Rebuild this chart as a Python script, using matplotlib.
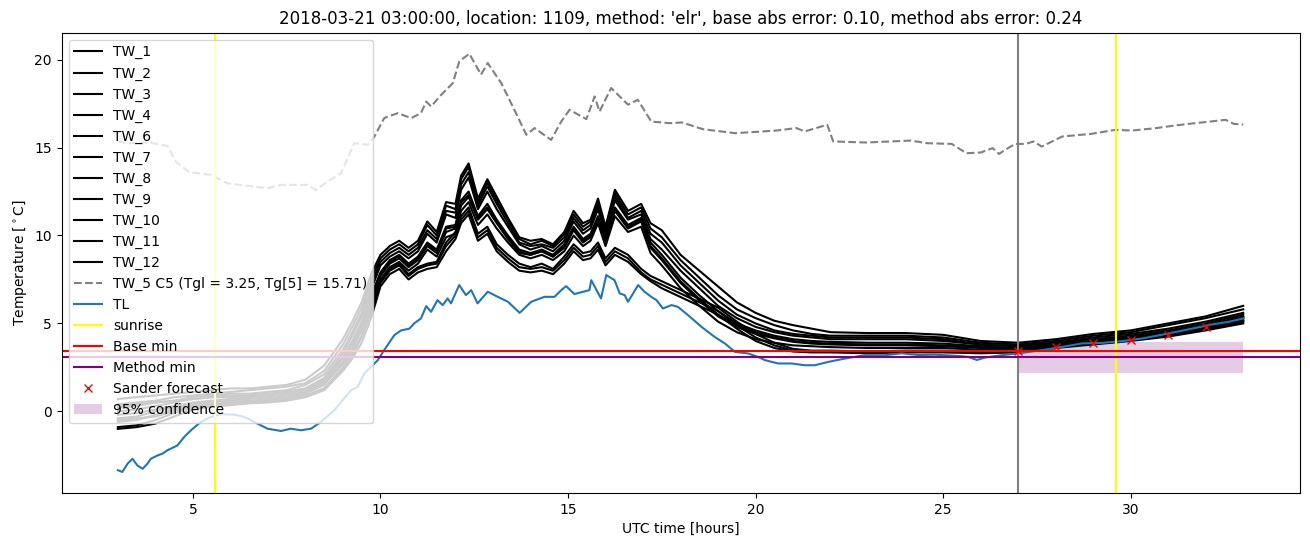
#!/usr/bin/env python3

import numpy as np
import matplotlib as mpl
mpl.use('Agg')
import matplotlib.pyplot as plt

################################################################################

title = ("2018-03-21 03:00:00, location: 1109, method: 'elr', "
         "base abs error: 0.10, method abs error: 0.24")

# common time axis of the TW sensors (hours, UTC)
t_tw = [3, 3.5, 4, 4.5, 5, 5.5, 6, 6.5, 7, 7.5, 8, 8.5, 9, 9.25, 9.5, 9.75,
        10, 10.25, 10.5, 10.75, 11, 11.25, 11.5, 11.75, 12, 12.15, 12.35,
        12.6, 12.85, 13.1, 13.4, 13.7, 14, 14.3, 14.6, 14.9, 15.15, 15.4,
        15.6, 15.8, 16, 16.25, 16.6, 16.95, 17.2, 17.5, 18, 18.5, 19, 19.5,
        20, 20.5, 21, 21.5, 22, 23, 24, 25, 26, 27, 28, 29, 30, 31, 32, 33]

tw_names = ["TW_1", "TW_2", "TW_3", "TW_4", "TW_6", "TW_7", "TW_8", "TW_9",
            "TW_10", "TW_11", "TW_12"]

tw_1 = [0.7, 0.8, 0.9, 1.0, 1.1, 1.2, 1.3, 1.3, 1.4, 1.5, 1.8, 2.6, 4.1, 5.1,
        6.2, 7.8, 8.9, 9.4, 9.7, 9.3, 9.7, 10.8, 10.2, 11.9, 11.8, 13.4, 14.1,
        12.1, 13.2, 12.2, 11.0, 9.9, 9.7, 9.8, 9.5, 10.2, 11.4, 10.7, 10.9,
        12.1, 10.5, 12.6, 11.4, 11.8, 10.7, 10.3, 8.9, 8.0, 7.1, 6.2, 5.6,
        5.15, 4.9, 4.7, 4.5, 4.45, 4.45, 4.35, 4.0, 3.9, 4.1, 4.4, 4.6, 5.0,
        5.4, 6.0]
tw_2 = [0.4, 0.5, 0.6, 0.8, 0.9, 1.0, 1.1, 1.2, 1.3, 1.4, 1.6, 2.3, 3.8, 4.8,
        5.9, 7.5, 8.7, 9.2, 9.5, 9.1, 9.5, 10.6, 10.0, 11.7, 11.5, 13.2, 13.9,
        11.9, 13.0, 12.0, 10.9, 9.8, 9.5, 9.7, 9.4, 10.1, 11.2, 10.5, 10.8,
        11.9, 10.4, 12.4, 11.2, 11.6, 10.4, 9.9, 8.6, 7.6, 6.6, 5.8, 5.3, 4.9,
        4.6, 4.4, 4.3, 4.3, 4.3, 4.2, 3.9, 3.8, 4.0, 4.3, 4.5, 4.9, 5.3, 5.8]
tw_3 = [0.2, 0.3, 0.5, 0.6, 0.8, 0.9, 1.0, 1.0, 1.1, 1.2, 1.5, 2.1, 3.5, 4.5,
        5.6, 7.2, 8.5, 9.0, 9.3, 8.9, 9.3, 10.3, 9.8, 11.4, 11.3, 12.9, 13.6,
        11.7, 12.8, 11.8, 10.7, 9.6, 9.4, 9.5, 9.3, 9.9, 11.0, 10.3, 10.6,
        11.7, 10.2, 12.2, 11.0, 11.4, 10.1, 9.6, 8.3, 7.3, 6.3, 5.5, 5.0, 4.6,
        4.4, 4.3, 4.2, 4.2, 4.2, 4.1, 3.8, 3.7, 3.9, 4.2, 4.4, 4.7, 5.1, 5.6]
tw_4 = [0.0, 0.1, 0.3, 0.5, 0.7, 0.8, 0.9, 0.9, 1.0, 1.1, 1.3, 1.9, 3.3, 4.3,
        5.4, 6.9, 8.3, 8.8, 9.1, 8.7, 9.1, 10.1, 9.6, 11.2, 11.0, 12.6, 13.3,
        11.5, 12.5, 11.5, 10.5, 9.5, 9.2, 9.4, 9.1, 9.7, 10.8, 10.1, 10.4,
        11.5, 10.0, 12.0, 10.9, 11.2, 9.8, 9.2, 8.0, 7.0, 6.0, 5.3, 4.8, 4.5,
        4.3, 4.2, 4.1, 4.1, 4.1, 4.0, 3.8, 3.7, 3.9, 4.1, 4.3, 4.6, 5.0, 5.5]
tw_6 = [-0.2, -0.1, 0.1, 0.3, 0.5, 0.6, 0.7, 0.8, 0.9, 1.0, 1.2, 1.7, 3.0, 3.9,
        5.0, 6.5, 7.9, 8.6, 8.9, 8.4, 8.8, 9.6, 9.2, 10.5, 10.6, 12.0, 12.5,
        11.1, 11.8, 10.9, 10.0, 9.2, 9.0, 9.2, 8.9, 9.5, 10.5, 9.8, 10.1,
        11.1, 9.8, 11.6, 10.6, 11.0, 9.6, 8.9, 7.6, 6.6, 5.7, 5.0, 4.6, 4.3,
        4.1, 4.0, 3.95, 3.9, 3.9, 3.85, 3.7, 3.6, 3.8, 4.0, 4.2, 4.5, 4.9, 5.4]
tw_7 = [-0.4, -0.3, 0.0, 0.2, 0.4, 0.5, 0.6, 0.7, 0.8, 0.9, 1.1, 1.6, 2.8, 3.7,
        4.8, 6.3, 7.7, 8.4, 8.7, 8.2, 8.6, 9.4, 9.0, 10.2, 10.4, 11.7, 12.2,
        10.9, 11.5, 10.7, 9.8, 9.0, 8.9, 9.1, 8.8, 9.3, 10.3, 9.6, 9.9, 10.9,
        9.6, 11.4, 10.4, 10.8, 9.3, 8.6, 7.3, 6.3, 5.4, 4.8, 4.4, 4.15, 3.95,
        3.85, 3.8, 3.75, 3.75, 3.7, 3.6, 3.55, 3.75, 3.95, 4.15, 4.45, 4.8,
        5.3]
tw_8 = [0.3, 0.4, 0.5, 0.6, 0.7, 0.8, 0.8, 0.9, 1.0, 1.1, 1.3, 1.8, 3.1, 4.0,
        5.1, 6.6, 7.8, 8.5, 8.8, 8.3, 8.7, 9.5, 9.1, 10.4, 10.5, 11.9, 12.3,
        11.0, 11.6, 10.8, 9.9, 9.1, 8.9, 9.1, 8.8, 9.4, 10.4, 9.7, 10.0, 11.0,
        9.7, 11.5, 10.5, 10.9, 9.4, 8.7, 7.4, 6.4, 5.5, 4.9, 4.5, 4.2, 4.0,
        3.9, 3.85, 3.8, 3.8, 3.75, 3.65, 3.55, 3.8, 4.0, 4.2, 4.5, 4.85, 5.35]
tw_9 = [-0.6, -0.5, -0.2, 0.1, 0.3, 0.4, 0.5, 0.6, 0.7, 0.8, 1.0, 1.5, 2.7,
        3.5, 4.6, 6.0, 7.5, 8.2, 8.5, 8.0, 8.4, 9.2, 8.8, 9.9, 10.1, 11.4,
        11.9, 10.6, 11.2, 10.4, 9.6, 8.9, 8.7, 8.9, 8.6, 9.1, 10.0, 9.4, 9.7,
        10.7, 9.4, 11.1, 10.2, 10.5, 9.0, 8.3, 7.0, 6.0, 5.1, 4.5, 4.1, 3.9,
        3.75, 3.7, 3.65, 3.6, 3.6, 3.6, 3.5, 3.5, 3.7, 3.9, 4.1, 4.4, 4.75, 5.2]
tw_10 = [-0.9, -0.8, -0.5, -0.1, 0.2, 0.3, 0.4, 0.5, 0.6, 0.7, 0.9, 1.3, 2.4,
         3.2, 4.2, 5.6, 7.3, 8.0, 8.3, 7.7, 8.1, 8.3, 8.4, 9.4, 10.0, 10.9,
         11.4, 9.9, 10.3, 9.3, 8.7, 8.2, 8.1, 8.2, 8.0, 8.6, 9.3, 8.8, 8.9,
         9.4, 8.5, 9.1, 8.7, 7.9, 7.5, 7.2, 6.7, 6.2, 5.7, 4.9, 4.2, 3.75,
         3.45, 3.4, 3.4, 3.35, 3.4, 3.4, 3.35, 3.4, 3.65, 3.85, 4.05, 4.3,
         4.65, 5.1]
tw_11 = [-1.0, -0.9, -0.7, -0.3, 0.1, 0.25, 0.35, 0.45, 0.5, 0.6, 0.8, 1.2,
         2.3, 3.0, 3.9, 5.3, 7.1, 7.8, 8.1, 7.5, 7.9, 8.1, 8.2, 9.1, 9.8,
         10.7, 11.2, 9.7, 10.1, 9.1, 8.5, 8.0, 7.9, 8.0, 7.8, 8.4, 9.1, 8.6,
         8.7, 9.2, 8.3, 8.9, 8.5, 7.8, 7.4, 7.0, 6.5, 6.0, 5.5, 4.7, 4.0, 3.6,
         3.4, 3.35, 3.35, 3.3, 3.35, 3.35, 3.3, 3.35, 3.6, 3.8, 4.0, 4.25,
         4.6, 5.0]
tw_12 = [-0.5, -0.4, -0.3, 0.0, 0.3, 0.4, 0.5, 0.55, 0.6, 0.7, 0.85, 1.3, 2.5,
         3.3, 4.3, 5.8, 7.4, 8.1, 8.4, 7.8, 8.2, 8.4, 8.5, 9.6, 10.2, 11.1,
         11.6, 10.1, 10.5, 9.5, 8.9, 8.4, 8.2, 8.4, 8.1, 8.8, 9.5, 9.0, 9.1,
         9.6, 8.7, 9.3, 8.9, 8.1, 7.7, 7.4, 6.9, 6.4, 5.9, 5.1, 4.4, 3.9,
         3.55, 3.45, 3.45, 3.4, 3.45, 3.45, 3.4, 3.45, 3.7, 3.9, 4.1, 4.35,
         4.7, 5.15]

# TW_5 (dashed)
t_tw5 = [3.0, 3.26, 3.79, 4.32, 4.55, 4.9, 5.48, 5.92, 6.46, 6.99, 7.35, 8.05,
         8.28, 8.59, 8.95, 9.3, 9.66, 9.84, 10.1, 10.46, 10.82, 11.08, 11.22,
         11.35, 11.62, 11.93, 12.1, 12.37, 12.68, 12.86, 13.22, 13.57, 13.89,
         14.11, 14.55, 14.82, 15.04, 15.49, 15.71, 15.84, 16.15, 16.6, 16.86,
         17.22, 17.72, 18.04, 18.59, 19.46, 20.55, 21.09, 21.31, 21.91, 22.07,
         22.95, 24.14, 24.58, 25.23, 25.62, 26.0, 26.32, 26.49, 26.65, 26.92,
         27.2, 27.41, 27.63, 28.17, 28.94, 29.59, 30.03, 30.68, 31.12, 31.55,
         31.98, 32.53, 32.75, 33.0]
tw_5 = [15.35, 15.25, 15.3, 15.1, 14.2, 13.6, 13.45, 12.97, 12.82, 12.69, 12.88,
        12.88, 12.59, 13.07, 13.54, 15.25, 15.16, 15.63, 16.68, 16.96, 16.68,
        16.96, 17.62, 17.34, 18.0, 18.67, 19.9, 20.34, 19.15, 19.81, 18.67,
        17.15, 15.73, 16.11, 15.44, 16.48, 17.15, 16.62, 17.91, 17.05, 18.39,
        17.44, 17.72, 16.48, 16.39, 16.43, 16.05, 15.82, 15.97, 16.11, 15.92,
        16.3, 15.35, 15.29, 15.4, 15.25, 15.21, 14.68, 14.72, 14.97, 14.64,
        14.87, 15.21, 15.21, 15.35, 15.06, 15.63, 15.78, 16.01, 15.97, 16.11,
        16.24, 16.35, 16.45, 16.58, 16.35, 16.31]

# TL (air temperature)
t_tl = [3.0, 3.12, 3.26, 3.39, 3.52, 3.66, 3.79, 3.88, 4.06, 4.19, 4.32, 4.59,
        4.77, 4.95, 5.21, 5.48, 5.75, 6.1, 6.37, 6.64, 6.99, 7.35, 7.61, 7.88,
        8.15, 8.41, 8.77, 8.95, 9.22, 9.39, 9.57, 9.75, 9.93, 10.1, 10.37,
        10.55, 10.77, 10.9, 11.08, 11.22, 11.35, 11.52, 11.66, 11.79, 11.88,
        12.1, 12.28, 12.42, 12.59, 12.86, 13.13, 13.4, 13.71, 14.02, 14.37,
        14.64, 14.82, 14.95, 15.17, 15.57, 15.62, 15.88, 16.02, 16.24, 16.38,
        16.51, 16.6, 16.87, 17.04, 17.22, 17.36, 17.53, 17.76, 17.93, 18.2,
        18.56, 18.91, 19.18, 19.45, 19.8, 20.07, 20.25, 20.6, 20.96, 21.31,
        21.58, 21.94, 22.38, 22.91, 23.45, 23.89, 24.34, 24.78, 25.23, 25.5,
        25.67, 25.9, 26.12, 26.56, 27.1, 27.63, 28.16, 28.7, 29.23, 29.76,
        30.3, 30.92, 31.54, 32.17, 32.61, 33.0]
tl = [-3.35, -3.45, -2.98, -2.7, -3.08, -3.27, -2.98, -2.7, -2.51, -2.41, -2.22,
      -1.94, -1.46, -1.08, -0.61, -0.32, -0.17, -0.19, -0.32, -0.61, -0.99,
      -1.12, -0.99, -1.08, -0.99, -0.61, 0.06, 0.53, 1.2, 1.38, 2.15, 2.52,
      2.91, 3.48, 4.33, 4.6, 4.7, 5.0, 5.28, 5.98, 5.66, 6.32, 6.04, 6.42,
      6.14, 7.18, 6.61, 6.89, 6.14, 6.8, 6.51, 6.23, 5.6, 6.23, 6.51, 6.51,
      6.89, 7.12, 6.67, 6.89, 7.46, 6.42, 7.75, 7.46, 6.7, 6.61, 6.23, 7.18,
      6.8, 6.51, 6.32, 5.85, 6.04, 5.94, 5.47, 4.8, 4.23, 3.86, 3.38, 3.29,
      3.09, 2.91, 2.72, 2.72, 2.62, 2.62, 2.81, 3.0, 3.19, 3.19, 3.3, 3.2,
      3.22, 3.17, 3.13, 3.09, 2.92, 3.06, 3.19, 3.32, 3.48, 3.66, 3.86, 3.89,
      3.99, 4.14, 4.39, 4.66, 4.94, 5.09, 5.28]

sunrise = [5.6, 29.6]
forecast_start = 27
base_min = 3.42
method_min = 3.08

sander_t = [27, 28, 29, 30, 31, 32]
sander_v = [3.42, 3.66, 3.89, 4.08, 4.33, 4.78]

conf_t = [27, 33]
conf_lo = [2.2, 2.2]
conf_hi = [3.95, 3.95]

################################################################################

fig, ax = plt.subplots(figsize=(13.1, 5.47), dpi=100)
fig.subplots_adjust(left=0.047, right=0.992, top=0.94, bottom=0.099)

tw_series = [tw_1, tw_2, tw_3, tw_4, tw_6, tw_7, tw_8, tw_9, tw_10, tw_11, tw_12]
for name, vals in zip(tw_names, tw_series):
    ax.plot(t_tw, vals, color="black", label=name)

ax.plot(t_tw5, tw_5, color="grey", linestyle="--",
        label="TW_5 C5 (Tgl = 3.25, Tg[5] = 15.71)")
ax.plot(t_tl, tl, color="C0", label="TL")

ax.axvline(sunrise[0], color="yellow", label="sunrise")
ax.axvline(sunrise[1], color="yellow")
ax.axvline(forecast_start, color="grey")

ax.axhline(base_min, color="red", label="Base min")
ax.axhline(method_min, color="purple", label="Method min")

ax.plot(sander_t, sander_v, "x", color="red", label="Sander forecast")
ax.fill_between(conf_t, conf_lo, conf_hi, color="purple", alpha=0.2,
                linewidth=0, label="95% confidence")

ax.set_title(title)
ax.set_xlabel("UTC time [hours]")
ax.set_ylabel(r"Temperature [$^\circ$C]")

ax.legend(loc="upper left")

fig.savefig("out.png")
